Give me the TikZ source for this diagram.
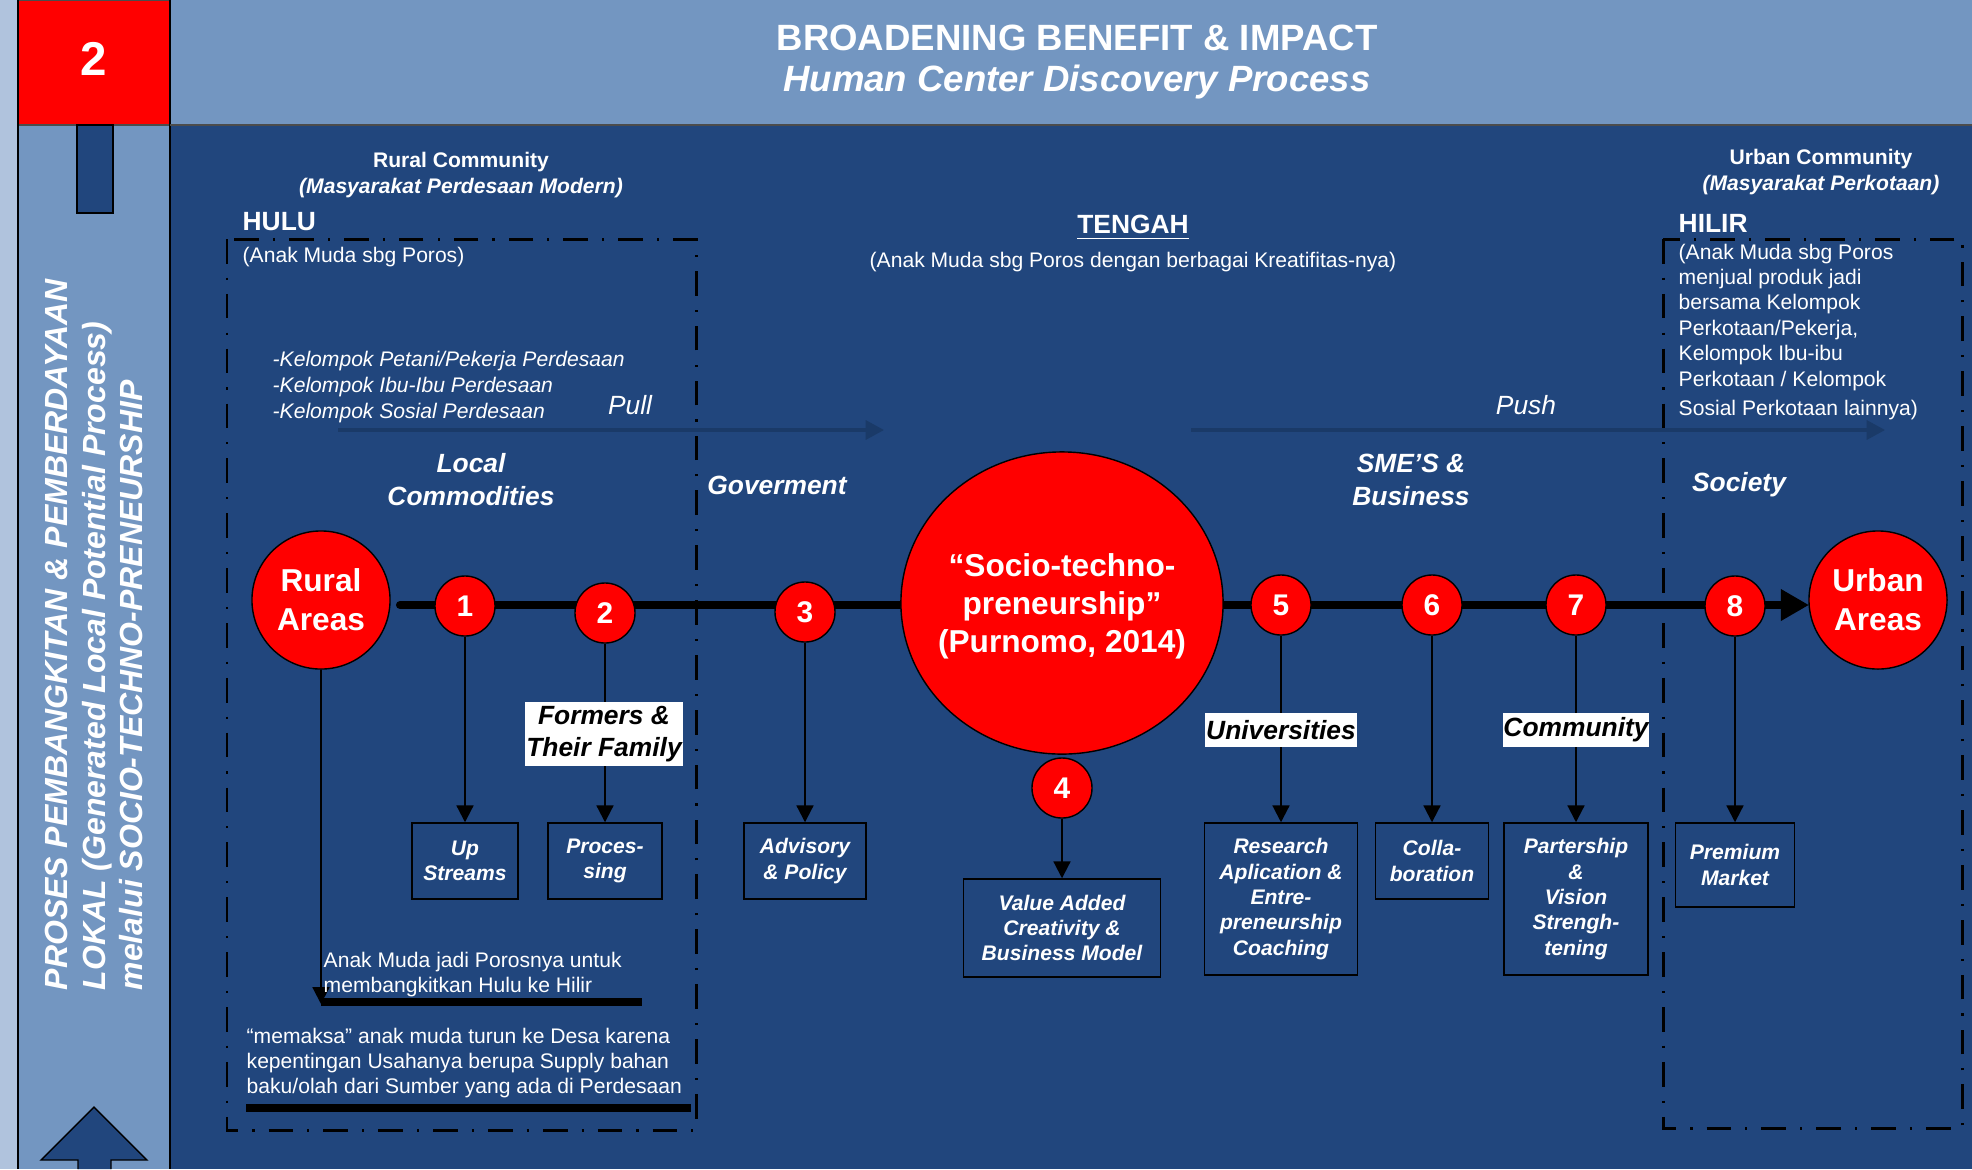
\documentclass[tikz,border=0pt]{standalone}
\usepackage{fontspec}
\setmainfont{Liberation Sans}
\setsansfont{Liberation Sans}
\usetikzlibrary{arrows.meta,shapes.geometric}
\definecolor{deepblue}{HTML}{21467D}
\definecolor{midblue}{HTML}{7396C1}
\definecolor{paleblue}{HTML}{B0C3DD}
\definecolor{flowblue}{HTML}{1A3A68}
\newcommand\fsz[2]{\fontsize{#1}{#2}\selectfont}
\tikzset{
  numdot/.style={circle,draw=black,fill=red,text=white,minimum size=0.6cm,inner sep=0pt,font=\fsz{8.5}{10}\bfseries},
  areadot/.style={circle,draw=black,fill=red,text=white,minimum size=1.38cm,inner sep=0pt,align=center,font=\fsz{9}{11}\bfseries},
  stepbox/.style={draw=black,fill=deepblue,text=white,inner sep=0pt,align=center,font=\fsz{6}{7.2}\bfseries\itshape},
  tagbox/.style={fill=white,text=black,inner sep=0pt,align=center,font=\fsz{7.5}{8.9}\bfseries\itshape},
  wlabel/.style={text=white,inner sep=0pt,align=center},
  downarrow/.style={-{Triangle[length=4.8pt,width=4.8pt]},line width=0.6pt},
  flowarrow/.style={flowblue,line width=0.9pt,-{Triangle[length=5.2pt,width=5.4pt]}},
  zonebox/.style={line width=0.85pt,dash pattern=on 7pt off 4pt on 0.6pt off 4pt}
}
\begin{document}
\begin{tikzpicture}[x=0.01cm,y=-0.01cm]
  \useasboundingbox (0,0) rectangle (1972,1169);
  % panels
  \fill[paleblue] (0,0) rectangle (18,1169);
  \fill[midblue] (18,0) rectangle (1972,125);
  \fill[midblue] (18,125) rectangle (170,1169);
  \fill[deepblue] (170,125) rectangle (1972,1169);
  \draw[fill=red,draw=black!70] (18,0) rectangle (170,125);
  \draw[line width=0.6pt] (18,0) -- (18,1169) (170,0) -- (170,1169);
  \draw[black!70] (170,125) -- (1972,125);
  \draw[fill=deepblue] (77,125) rectangle (113,213);
  \draw[fill=deepblue] (78,1169) -- (78,1160) -- (41,1160) -- (94,1107) -- (147,1160) -- (111,1160) -- (111,1169);
  \node[wlabel,font=\fsz{13.5}{16}\bfseries] (secnum) at (94,59) {2};
  \node[wlabel,font=\fsz{10.4}{12}\bfseries] (title) at (1077,38) {BROADENING BENEFIT \& IMPACT};
  \node[wlabel,font=\fsz{10.4}{12}\bfseries\itshape] (subtitle) at (1077,82) {Human Center Discovery Process};
  \node[wlabel,rotate=90,anchor=west,align=left,font=\fsz{9.1}{10.8}\bfseries\itshape] (sidetext) at (94,991)
    {PROSES PEMBANGKITAN \& PEMBERDAYAAN\\
     LOKAL (Generated Local Potential Process)\\
     melalui SOCIO-TECHNO-PRENEURSHIP};

  % zones
  \draw[zonebox] (227,239) rectangle (696,1130);
  \draw[zonebox] (1663,239) rectangle (1962,1128);
  \node[wlabel,font=\fsz{6}{7.3}\bfseries] (rural) at (461,162) {Rural Community};
  \node[wlabel,font=\fsz{6}{7.3}\bfseries\itshape] (ruralsub) at (461,188) {(Masyarakat Perdesaan Modern)};
  \node[wlabel,anchor=west,font=\fsz{7.5}{9}\bfseries] (hulu) at (242,222) {HULU};
  \node[wlabel,anchor=west,font=\fsz{6}{7.3}] (hulunote) at (242,257) {(Anak Muda sbg Poros)};
  \node[wlabel,anchor=west,align=left,font=\fsz{6}{7.3}\itshape] (groups) at (272,387)
    {-Kelompok Petani/Pekerja Perdesaan\\-Kelompok Ibu-Ibu Perdesaan\\-Kelompok Sosial Perdesaan};
  \node[wlabel,font=\fsz{7.5}{9}\itshape] (pull) at (630,405) {Pull};
  \node[wlabel,font=\fsz{7.5}{9}\itshape] (push) at (1526,405) {Push};
  \coordinate (pullS) at (338,430);
  \coordinate (pullE) at (884,430);
  \coordinate (pushS) at (1191,430);
  \coordinate (pushE) at (1885,430);
  \draw[flowarrow] (pullS) -- (pullE);
  \draw[flowarrow] (pushS) -- (pushE);
  \node[wlabel,font=\fsz{7.5}{9.4}\bfseries\itshape] (localcom) at (471,480) {Local\\Commodities};
  \node[wlabel,font=\fsz{7.5}{9.4}\bfseries\itshape] (gov) at (777,485) {Goverment};
  \node[wlabel,font=\fsz{7.5}{9.4}\bfseries\itshape] (sme) at (1411,480) {SME’S \&\\Business};
  \node[wlabel,font=\fsz{7.5}{9.4}\bfseries\itshape] (society) at (1739,485) {Society};
  \node[wlabel,font=\fsz{7.5}{9}\bfseries] (tengah) at (1133,228) {\underline{TENGAH}};
  \node[wlabel,font=\fsz{6}{7.3}] (tengahnote) at (1133,262) {(Anak Muda sbg Poros dengan berbagai Kreatifitas-nya)};
  \node[wlabel,font=\fsz{6}{7.3}\bfseries] (urban) at (1821,159) {Urban Community};
  \node[wlabel,font=\fsz{6}{7.3}\bfseries\itshape] (urbansub) at (1821,185) {(Masyarakat Perkotaan)};
  \node[wlabel,anchor=west,font=\fsz{7.5}{9}\bfseries] (hilir) at (1678,223) {HILIR};
  \node[wlabel,anchor=north west,align=left,font=\fsz{6}{7.25}] (hilirnote) at (1678,243)
    {(Anak Muda sbg Poros\\menjual produk jadi\\bersama Kelompok\\Perkotaan/Pekerja,\\Kelompok Ibu-ibu\\Perkotaan / Kelompok\\[1pt]Sosial Perkotaan lainnya)};

  % main axis
  \coordinate (axisL) at (400,605);
  \coordinate (axisR) at (1809,605);
  \draw[line width=2.3pt,line cap=round,-{Triangle[length=8pt,width=8.5pt]}] (axisL) -- (axisR);
  \node[areadot] (ruralA) at (321,600) {Rural\\Areas};
  \node[areadot] (urbanA) at (1878,600) {Urban\\Areas};
  \node[ellipse,draw=black,fill=red,minimum width=3.22cm,minimum height=3.02cm,inner sep=0pt] (stp) at (1062,603) {};
  \node[wlabel,font=\fsz{9}{10.8}\bfseries] (stptext) at (1062,606) {“Socio-techno-\\preneurship”\\(Purnomo, 2014)};
  \node[numdot] (n1) at (465,606) {1};
  \node[numdot] (n2) at (605,613) {2};
  \node[numdot] (n3) at (805,612) {3};
  \node[numdot] (n4) at (1062,788) {4};
  \node[numdot] (n5) at (1281,605) {5};
  \node[numdot] (n6) at (1432,605) {6};
  \node[numdot] (n7) at (1576,605) {7};
  \node[numdot] (n8) at (1735,606) {8};

  % boxes
  \node[stepbox,minimum width=1.06cm,minimum height=0.76cm] (upstr) at (465,861) {Up\\Streams};
  \node[stepbox,minimum width=1.14cm,minimum height=0.76cm] (proc) at (605,861) {Proces-\\sing};
  \node[stepbox,minimum width=1.22cm,minimum height=0.76cm] (advis) at (805,861) {Advisory\\\& Policy};
  \node[stepbox,minimum width=1.97cm,minimum height=0.98cm] (value) at (1062,928) {Value Added\\Creativity \&\\Business Model};
  \node[stepbox,minimum width=1.53cm,minimum height=1.52cm] (resch) at (1281,899) {Research\\Aplication \&\\Entre-\\preneurship\\Coaching};
  \node[stepbox,minimum width=1.13cm,minimum height=0.76cm] (collab) at (1432,861) {Colla-\\boration};
  \node[stepbox,minimum width=1.44cm,minimum height=1.52cm] (partner) at (1576,899) {Partership\\\&\\Vision\\Strengh-\\tening};
  \node[stepbox,minimum width=1.19cm,minimum height=0.84cm] (premium) at (1735,865) {Premium\\Market};

  \draw[downarrow] (n1) -- (upstr);
  \draw[downarrow] (n2) -- (proc);
  \draw[downarrow] (n3) -- (advis);
  \draw[downarrow] (n4) -- (value);
  \draw[downarrow] (n5) -- (resch);
  \draw[downarrow] (n6) -- (collab);
  \draw[downarrow] (n7) -- (partner);
  \draw[downarrow] (n8) -- (premium);

  \node[tagbox,minimum width=1.57cm,minimum height=0.64cm] (formers) at (604,734) {Formers \&\\Their Family};
  \node[tagbox,minimum width=1.52cm,minimum height=0.34cm] (univ) at (1281,730) {Universities};
  \node[tagbox,minimum width=1.46cm,minimum height=0.34cm] (commu) at (1576,730) {Community};

  % bottom notes
  \coordinate (porosTip) at (321,1004);
  \coordinate (porosEnd) at (642,1002);
  \draw[downarrow] (ruralA) -- (porosTip);
  \draw[line width=2.3pt] (porosTip |- porosEnd) -- (porosEnd);
  \node[wlabel,anchor=west,align=left,font=\fsz{6}{7.1}] (porosnote) at (323,975)
    {Anak Muda jadi Porosnya untuk\\membangkitkan Hulu ke Hilir};
  \node[wlabel,anchor=west,align=left,font=\fsz{6}{7.2}] (desanote) at (246,1063)
    {“memaksa” anak muda turun ke Desa karena\\kepentingan Usahanya berupa Supply bahan\\baku/olah dari Sumber yang ada di Perdesaan};
  \coordinate (desaL) at (246,1108);
  \coordinate (desaR) at (691,1108);
  \draw[line width=2.3pt] (desaL) -- (desaR);
\end{tikzpicture}
\end{document}
